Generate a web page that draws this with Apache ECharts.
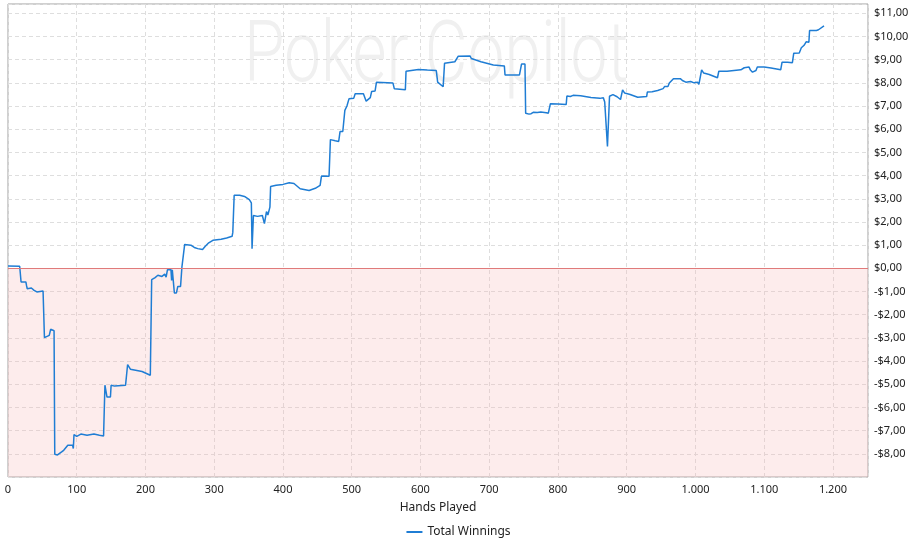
<!DOCTYPE html>
<html>
<head>
<meta charset="utf-8">
<script src="https://cdn.jsdelivr.net/npm/echarts@6/dist/echarts.min.js"></script>
<style>
html,body{margin:0;padding:0;background:#fff;}
#main{width:917px;height:552px;}
</style>
</head>
<body>
<div id="main"></div>
<script>
var hands = [0,17,19,26,27,28,34,38,42,51,53,60,62,67,68,72,78,81,87,94,95,96,100,106,115,125,133,139,141,144,149,150,155,171,174,178,195,207,209,214,218,224,228,230,232,237,238,239,242,245,247,251,253,257,266,271,276,283,287,292,298,310,318,326,327,329,337,344,351,354,355,357,363,370,373,375,376,378,381,382,390,400,409,416,425,438,447,454,456,467,469,476,481,483,487,490,493,496,503,505,517,521,527,529,534,536,560,562,578,579,597,610,623,625,633,635,650,655,672,674,688,706,722,723,744,747,752,753,758,761,764,770,775,783,786,789,800,812,813,818,822,833,848,861,866,868,872,875,880,886,891,894,897,905,916,929,930,937,945,947,953,955,960,962,968,978,981,983,986,993,998,1003,1005,1009,1012,1020,1032,1034,1046,1056,1066,1071,1078,1080,1083,1088,1090,1100,1110,1124,1126,1134,1141,1143,1151,1153,1154,1158,1161,1165,1166,1176,1179,1187];
var winnings = [0.10,0.09,-0.59,-0.59,-0.75,-0.88,-0.85,-0.95,-1.02,-0.98,-2.99,-2.89,-2.63,-2.69,-8.02,-8.05,-7.92,-7.85,-7.63,-7.63,-7.77,-7.17,-7.25,-7.15,-7.20,-7.15,-7.20,-7.23,-5.04,-5.55,-5.55,-5.04,-5.08,-5.04,-4.15,-4.35,-4.45,-4.61,-0.49,-0.40,-0.30,-0.35,-0.25,-0.38,-0.06,-0.05,-0.52,-0.06,-1.06,-1.06,-0.78,-0.78,0.06,1.03,1.00,0.90,0.85,0.81,0.95,1.10,1.21,1.25,1.31,1.38,1.55,3.15,3.15,3.10,2.96,2.82,0.85,2.28,2.24,2.28,1.93,1.85,2.45,2.30,2.64,3.53,3.58,3.62,3.69,3.66,3.43,3.36,3.45,3.58,3.98,3.97,5.55,5.50,5.47,5.90,5.90,6.81,7.00,7.31,7.34,7.53,7.53,7.21,7.36,7.63,7.65,8.03,7.99,7.74,7.70,8.50,8.58,8.55,8.53,8.03,7.83,8.84,8.91,9.15,9.16,9.05,8.91,8.77,8.73,8.34,8.34,8.81,8.81,6.69,6.65,6.67,6.73,6.72,6.74,6.71,6.69,7.10,7.09,7.07,7.43,7.41,7.46,7.44,7.37,7.33,7.36,7.17,5.26,7.42,7.49,7.40,7.28,7.70,7.56,7.50,7.38,7.41,7.60,7.62,7.67,7.75,7.75,7.84,7.84,7.99,8.18,8.18,8.10,8.13,8.03,8.06,8.00,8.03,7.93,8.56,8.42,8.36,8.22,8.50,8.50,8.53,8.56,8.65,8.68,8.55,8.46,8.53,8.68,8.68,8.64,8.56,8.89,8.89,8.87,9.28,9.29,9.25,9.51,9.62,9.77,9.75,10.26,10.26,10.29,10.46];
var seriesName = 'Total Winnings';
var xAxisTitle = 'Hands Played';
var watermarkText = 'Poker Copilot';

var points = hands.map(function(h, i){ return [h, winnings[i]]; });

function fmtX(v){
  if (v >= 1000) { var s = String(v); return s.slice(0, s.length-3) + '.' + s.slice(-3); }
  return String(v);
}
function fmtY(v){
  if (Math.abs(v - Math.round(v)) > 1e-6 || v <= -9) return '';
  return (v < 0 ? '-' : '') + '$' + Math.abs(Math.round(v)) + ',00';
}

var chart = echarts.init(document.getElementById('main'), null, {renderer:'canvas'});
var font = '"Noto Sans", "DejaVu Sans", sans-serif';
chart.setOption({
  animation: false,
  backgroundColor: '#fff',
  textStyle: {fontFamily: font},
  graphic: [{
    type: 'text', left: 244, top: 16, z: -10, silent: true,
    scaleX: 0.765,
    style: {text: watermarkText, fill: '#f0f0f0', font: '300 86px Roboto, "Noto Sans", sans-serif'}
  }],
  grid: {left: 8, right: 49, top: 4, bottom: 75, show: true, borderColor: '#a0a0a0', borderWidth: 1, backgroundColor: 'transparent'},
  xAxis: {
    type: 'value', min: 0, max: 1251, interval: 100,
    name: xAxisTitle, nameLocation: 'middle', nameGap: 25,
    nameTextStyle: {color: '#222', fontSize: 12, fontFamily: font},
    axisLine: {show: false}, axisTick: {show: false},
    axisLabel: {color: '#222', fontSize: 11, margin: 7, showMaxLabel: false, formatter: fmtX, fontFamily: font},
    splitLine: {show: true, lineStyle: {color: '#dedede', type: [4,3], width: 1}}
  },
  yAxis: {
    type: 'value', position: 'right', min: -9, max: 11.4, interval: 1,
    axisLine: {show: false}, axisTick: {show: false},
    axisLabel: {color: '#222', fontSize: 11, margin: 6, showMinLabel: false, showMaxLabel: false, formatter: fmtY, fontFamily: font},
    splitLine: {show: true, lineStyle: {color: '#dedede', type: [4,3], width: 1}}
  },
  legend: {
    bottom: 9, left: 'center', icon: 'rect', itemWidth: 16, itemHeight: 2,
    textStyle: {color: '#222', fontSize: 12, fontFamily: font},
    data: [seriesName]
  },
  series: [{
    name: seriesName, type: 'line', data: points, symbol: 'none',
    lineStyle: {color: '#1f7dd4', width: 1.5}, itemStyle: {color: '#1f7dd4'},
    markArea: {silent: true, itemStyle: {color: 'rgba(248,180,180,0.25)'}, data: [[{yAxis: -9}, {yAxis: 0}]]},
    markLine: {silent: true, symbol: 'none', label: {show: false}, lineStyle: {color: '#e07a7a', type: 'solid', width: 1}, data: [{yAxis: 0}]}
  }]
});
</script>
</body>
</html>
